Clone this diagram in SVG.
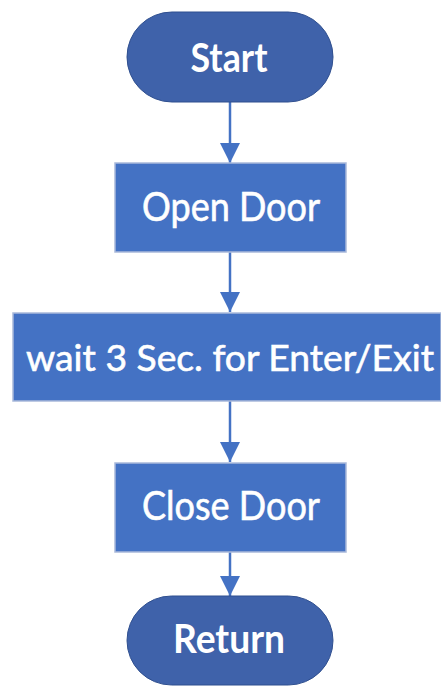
<svg xmlns="http://www.w3.org/2000/svg" width="441" height="686" viewBox="0 0 441 686">
<style>
.term{fill:#3F62AA;stroke:#2F4F8F;stroke-width:1}
.proc{fill:#4472C4;stroke:#A9B9DA;stroke-width:1.5}
.lbl{font-family:Lato,"Liberation Sans",sans-serif;fill:#fff;text-anchor:middle;font-size:40px;stroke:#fff;stroke-width:0.6}
.bold{font-weight:bold;stroke-width:0}
.conn{stroke:#4472C4;stroke-width:2.5;fill:none}
</style>
<defs>
<marker id="ah" markerUnits="userSpaceOnUse" markerWidth="20" markerHeight="22" refX="20" refY="10" orient="auto" viewBox="0 0 20 20">
<path d="M0,0 L20,10 L0,20 Z" fill="#4472C4"/>
</marker>
</defs>
<g id="connectors">
<line class="conn" x1="230" y1="102" x2="230" y2="163" marker-end="url(#ah)"/>
<line class="conn" x1="230" y1="252" x2="230" y2="312" marker-end="url(#ah)"/>
<line class="conn" x1="230" y1="401" x2="230" y2="462" marker-end="url(#ah)"/>
<line class="conn" x1="230" y1="552" x2="230" y2="596" marker-end="url(#ah)"/>
</g>
<g id="start">
<rect class="term" x="127" y="12" width="206" height="90" rx="45"/>
<text class="lbl bold" x="229" y="72" textLength="77" lengthAdjust="spacingAndGlyphs">Start</text>
</g>
<g id="open-door">
<rect class="proc" x="115" y="163" width="231" height="89"/>
<text class="lbl" x="231" y="221" textLength="178" lengthAdjust="spacingAndGlyphs">Open Door</text>
</g>
<g id="wait">
<rect class="proc" x="13" y="313" width="428" height="88"/>
<text class="lbl" x="230" y="371" style="font-size:37px" textLength="408" lengthAdjust="spacingAndGlyphs">wait 3 Sec. for Enter/Exit</text>
</g>
<g id="close-door">
<rect class="proc" x="115" y="463" width="231" height="89"/>
<text class="lbl" x="231" y="520" textLength="178" lengthAdjust="spacingAndGlyphs">Close Door</text>
</g>
<g id="return">
<rect class="term" x="127" y="596" width="206" height="89" rx="44.5"/>
<text class="lbl bold" x="229" y="653" textLength="112" lengthAdjust="spacingAndGlyphs">Return</text>
</g>
</svg>
